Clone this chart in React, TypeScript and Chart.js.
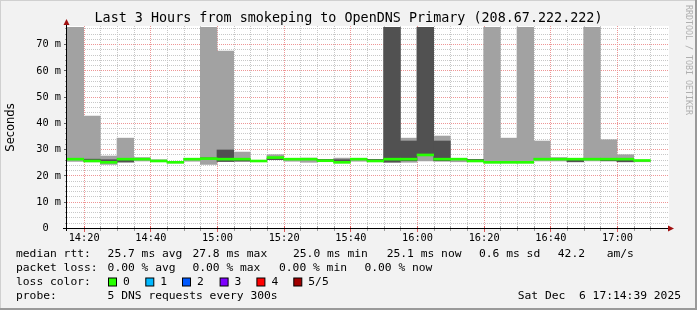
import { useEffect, useRef } from 'react';
import { Chart, registerables } from 'chart.js';

Chart.register(...registerables);

// ---- data (ms) ----
const rangeStart = '14:15';
const rangeMinutes = 180;
const stepMinutes = 5;

const intervalStarts = [
  '14:15', '14:20', '14:25', '14:30', '14:35', '14:40', '14:45', '14:50', '14:55',
  '15:00', '15:05', '15:10', '15:15', '15:20', '15:25', '15:30', '15:35', '15:40',
  '15:45', '15:50', '15:55', '16:00', '16:05', '16:10', '16:15', '16:20', '16:25',
  '16:30', '16:35', '16:40', '16:45', '16:50', '16:55', '17:00', '17:05',
];
const smokeLow = [
  25.3, 25.2, 24.2, 25.1, 25.5, 25.3, 24.8, 25.4, 24.2,
  25.3, 25.3, 25.3, 26.0, 25.4, 25.0, 25.4, 24.8, 25.4,
  25.3, 25.1, 25.0, 25.5, 25.4, 25.2, 25.3, 24.8, 24.8,
  24.8, 25.5, 25.5, 25.2, 25.5, 25.5, 25.2, 25.2,
];
const smokeHigh = [
  80, 42.6, 27.4, 34.2, 26.8, 26.0, 25.2, 26.5, 80,
  67.3, 28.9, 25.7, 27.9, 26.3, 26.6, 26.1, 26.6, 26.4,
  26.1, 80, 34.2, 80, 35.0, 26.4, 26.1, 80, 34.2,
  80, 33.1, 26.8, 26.2, 80, 33.6, 27.9, 25.8,
];
const coreLow: (number | null)[] = [
  null, 25.6, 25.1, 25.1, null, null, null, null, 26.3,
  25.3, 25.5, null, 26.0, null, null, 25.6, 25.3, null,
  25.7, 25.1, 25.6, 27.5, 25.6, null, 25.7, null, null,
  null, null, null, 25.2, null, 25.6, 25.2, null,
];
const coreHigh: (number | null)[] = [
  null, 26.2, 26.0, 25.9, null, null, null, null, 26.7,
  29.7, 26.0, null, 26.5, null, null, 26.1, 26.0, null,
  26.1, 80, 33.1, 80, 33.1, null, 26.1, null, null,
  null, null, null, 26.0, null, 26.0, 26.0, null,
];
const medianRtt = [
  26.2, 25.5, 25.0, 26.2, 26.2, 25.5, 25.0, 26.2, 26.4,
  26.2, 26.2, 25.5, 26.8, 26.2, 26.2, 25.6, 25.0, 26.2,
  25.5, 26.2, 26.2, 27.8, 26.2, 26.2, 25.5, 25.0, 25.0,
  25.0, 26.2, 26.2, 26.2, 26.2, 26.2, 26.2, 25.7,
];

const xTickLabels = ['14:20', '14:40', '15:00', '15:20', '15:40', '16:00', '16:20', '16:40', '17:00'];
const yTickValues = [0, 10, 20, 30, 40, 50, 60, 70];
const yMax = 76.5;

const lossLabels = ['0', '1', '2', '3', '4', '5/5'];
const lossColors = ['#26ff00', '#00b8ff', '#0059ff', '#7e00ff', '#ff0000', '#a10000'];

const titleText = 'Last 3 Hours from smokeping to OpenDNS Primary (208.67.222.222)';
const rttRow = ['25.7 ms avg', '27.8 ms max', '25.0 ms min', '25.1 ms now', '0.6 ms sd', '42.2', 'am/s'];
const lossRow = ['0.00 % avg', '0.00 % max', '0.00 % min', '0.00 % now'];
const probeText = '5 DNS requests every 300s';
const dateText = 'Sat Dec  6 17:14:39 2025';

function toMin(t: string) {
  const [h, m] = t.split(':').map(Number);
  return h * 60 + m;
}
const base = toMin(rangeStart);

const MONO = '"DejaVu Sans Mono", monospace';

const smokePlugin = {
  id: 'smokeDecor',
  beforeDraw(chart: any) {
    const ctx = chart.ctx as CanvasRenderingContext2D;
    const { left, right, top, bottom } = chart.chartArea;
    const W = chart.width, H = chart.height;
    const xs = chart.scales.x, ys = chart.scales.y;
    ctx.save();
    ctx.fillStyle = '#f2f2f2';
    ctx.fillRect(0, 0, W, H);
    ctx.fillStyle = '#ffffff';
    ctx.fillRect(left, top - 1, right - left + 2, bottom - top + 1);
    ctx.lineWidth = 1;
    ctx.setLineDash([1, 1]);
    // horizontal grid
    for (let v = 2; v <= yMax; v += 2) {
      const y = Math.round(ys.getPixelForValue(v)) + 0.5;
      ctx.strokeStyle = v % 10 === 0 ? 'rgb(238,150,150)' : 'rgb(200,200,200)';
      ctx.beginPath();
      ctx.moveTo(left, y);
      ctx.lineTo(right + 1, y);
      ctx.stroke();
    }
    // vertical grid
    for (let m = stepMinutes; m < rangeMinutes; m += stepMinutes) {
      const x = Math.round(xs.getPixelForValue(m)) + 0.5;
      const major = (m - 5) % 20 === 0;
      ctx.strokeStyle = major ? 'rgb(238,150,150)' : 'rgb(200,200,200)';
      ctx.beginPath();
      ctx.moveTo(x, top - 1);
      ctx.lineTo(x, bottom);
      ctx.stroke();
    }
    ctx.restore();
  },
  afterDraw(chart: any) {
    const ctx = chart.ctx as CanvasRenderingContext2D;
    const { left, right, bottom } = chart.chartArea;
    const W = chart.width, H = chart.height;
    const xs = chart.scales.x, ys = chart.scales.y;
    ctx.save();
    ctx.setLineDash([]);
    ctx.lineWidth = 1;
    // tick marks y
    for (let v = 2; v <= yMax; v += 2) {
      const y = Math.round(ys.getPixelForValue(v)) + 0.5;
      const major = v % 10 === 0;
      ctx.strokeStyle = major ? '#606060' : '#a0a0a0';
      ctx.beginPath();
      ctx.moveTo(left - (major ? 3 : 2), y);
      ctx.lineTo(left - 1, y);
      ctx.stroke();
    }
    // tick marks x
    for (let m = stepMinutes; m < rangeMinutes; m += stepMinutes) {
      const x = Math.round(xs.getPixelForValue(m)) + 0.5;
      const major = (m - 5) % 20 === 0;
      ctx.strokeStyle = major ? 'rgb(220,90,90)' : '#a0a0a0';
      ctx.beginPath();
      ctx.moveTo(x, bottom - 2);
      ctx.lineTo(x, bottom + (major ? 4 : 3));
      ctx.stroke();
    }
    // axes
    ctx.strokeStyle = '#000000';
    ctx.beginPath();
    ctx.moveTo(left - 0.5, bottom + 3);
    ctx.lineTo(left - 0.5, 24);
    ctx.stroke();
    ctx.beginPath();
    ctx.moveTo(left - 4, bottom + 0.5);
    ctx.lineTo(right + 2, bottom + 0.5);
    ctx.stroke();
    // arrows
    ctx.fillStyle = '#a01010';
    ctx.beginPath();
    ctx.moveTo(left - 3.5, 25);
    ctx.lineTo(left + 2.5, 25);
    ctx.lineTo(left - 0.5, 19);
    ctx.closePath();
    ctx.fill();
    ctx.beginPath();
    ctx.moveTo(right + 1, bottom - 2.5);
    ctx.lineTo(right + 1, bottom + 3.5);
    ctx.lineTo(right + 7, bottom + 0.5);
    ctx.closePath();
    ctx.fill();

    // y labels
    ctx.fillStyle = '#000000';
    ctx.font = `10.3px ${MONO}`;
    ctx.textAlign = 'right';
    ctx.textBaseline = 'middle';
    yTickValues.forEach((v) => {
      const label = v === 0 ? ' 0  ' : `${v} m`;
      ctx.fillText(label, 61, ys.getPixelForValue(v) + 0.5);
    });
    // x labels
    ctx.textAlign = 'center';
    xTickLabels.forEach((t) => {
      ctx.fillText(t, xs.getPixelForValue(toMin(t) - base) + 0.5, 238);
    });

    // title
    ctx.font = `13.4px ${MONO}`;
    ctx.fillText(titleText, 348.5, 19);

    // y axis title
    ctx.save();
    ctx.translate(11, 127.5);
    ctx.rotate(-Math.PI / 2);
    ctx.font = '11.5px "DejaVu Sans", sans-serif';
    ctx.textAlign = 'center';
    ctx.fillText('Seconds', 0, 0);
    ctx.restore();

    // side watermark
    ctx.save();
    ctx.translate(688.5, 5);
    ctx.rotate(Math.PI / 2);
    ctx.font = `8.3px ${MONO}`;
    ctx.fillStyle = 'rgb(175,175,175)';
    ctx.textAlign = 'left';
    ctx.fillText('RRDTOOL / TOBI OETIKER', 0, 0);
    ctx.restore();

    // legend
    ctx.font = `11.3px ${MONO}`;
    ctx.textAlign = 'left';
    ctx.fillStyle = '#000000';
    const r1 = 254.5, r2 = 268.5, r3 = 282.5, r4 = 296.5;
    ctx.fillText('median rtt:', 16, r1);
    const rttX = [107.6, 192.4, 293, 386.7, 479, 557.8, 606.7];
    rttRow.forEach((s, i) => ctx.fillText(s, rttX[i], r1));
    ctx.fillText('packet loss:', 16, r2);
    const lossX = [107.6, 192.4, 279, 364.4];
    lossRow.forEach((s, i) => ctx.fillText(s, lossX[i], r2));
    ctx.fillText('loss color:', 16, r3);
    const boxX = [108, 145.3, 182, 219.6, 256.4, 293.3];
    lossLabels.forEach((s, i) => {
      ctx.fillStyle = lossColors[i];
      ctx.fillRect(boxX[i] + 0.5, r3 - 4.5, 8, 8);
      ctx.strokeStyle = '#000000';
      ctx.strokeRect(boxX[i] + 0.5, r3 - 4.5, 8, 8);
      ctx.fillStyle = '#000000';
      ctx.fillText(s, boxX[i] + 15, r3);
    });
    ctx.fillText('probe:', 16, r4);
    ctx.fillText(probeText, 107.6, r4);
    ctx.textAlign = 'right';
    ctx.fillText(dateText, 681, r4);

    // frame
    ctx.fillStyle = '#d0d0d0';
    ctx.fillRect(0, 0, W, 1);
    ctx.fillRect(0, 0, 1, H);
    ctx.fillStyle = '#9a9a9a';
    ctx.fillRect(0, H - 2, W, 2);
    ctx.fillRect(W - 2, 0, 2, H);
    ctx.restore();
  },
};

export default function App() {
  const ref = useRef<HTMLCanvasElement>(null);
  useEffect(() => {
    if (!ref.current) return;
    const mid = (i: number) => toMin(intervalStarts[i]) - base + stepMinutes / 2;
    const smoke = intervalStarts.map((_, i) => ({ x: mid(i), y: [smokeLow[i], smokeHigh[i]] }));
    const core = intervalStarts
      .map((_, i) => (coreLow[i] == null ? null : { x: mid(i), y: [coreLow[i], coreHigh[i]] }))
      .filter((d) => d !== null);
    const med = intervalStarts.map((_, i) => ({ x: mid(i), y: [medianRtt[i] - 0.38, medianRtt[i] + 0.38] }));
    const common = {
      grouped: false,
      barPercentage: 1,
      categoryPercentage: 1,
      borderWidth: 0,
      clip: 0,
    };
    const chart = new Chart(ref.current, {
      type: 'bar',
      data: {
        datasets: [
          { ...common, label: 'median', data: med as any, backgroundColor: '#26ff00', order: 0 },
          { ...common, label: 'core', data: core as any, backgroundColor: '#515151', order: 1 },
          { ...common, label: 'smoke', data: smoke as any, backgroundColor: '#a2a2a2', order: 2 },
        ],
      },
      options: {
        responsive: false,
        devicePixelRatio: 1,
        animation: false,
        events: [],
        layout: { padding: { left: 67, right: 30, top: 27, bottom: 82 } },
        plugins: { legend: { display: false }, tooltip: { enabled: false }, title: { display: false } },
        scales: {
          x: { type: 'linear', display: false, min: 0, max: rangeMinutes, offset: false },
          y: { type: 'linear', display: false, min: 0, max: yMax },
        },
      },
      plugins: [smokePlugin],
    });
    return () => chart.destroy();
  }, []);
  return (
    <div style={{ position: 'fixed', left: 0, top: 0, width: 697, height: 310 }}>
      <canvas ref={ref} width={697} height={310} style={{ width: 697, height: 310, display: 'block' }} />
    </div>
  );
}
